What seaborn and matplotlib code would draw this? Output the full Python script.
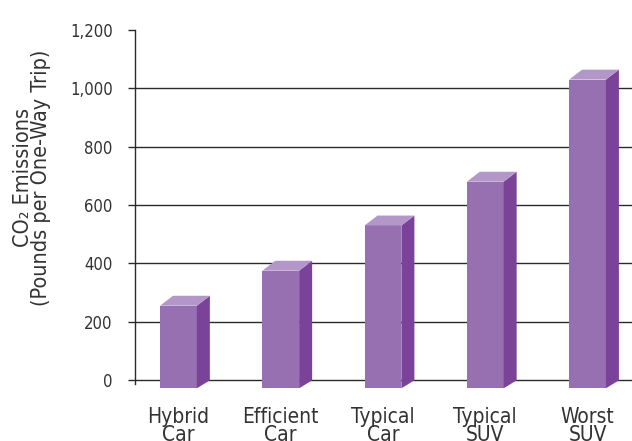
import matplotlib
matplotlib.use('Agg')
import matplotlib.pyplot as plt
from matplotlib.patches import Polygon
import pandas as pd
import seaborn as sns

categories = ['Hybrid\nCar', 'Efficient\nCar', 'Typical\nCar', 'Typical\nSUV', 'Worst\nSUV']
emissions = [255, 375, 530, 680, 1030]
yticks = [0, 200, 400, 600, 800, 1000, 1200]

front = '#9670B0'
side = '#7A4399'
top = '#B397C9'
txt = '#333333'

sns.set_theme(style='white')
plt.rcParams['font.family'] = ['DejaVu Sans']
plt.rcParams['font.stretch'] = 'condensed'

df = pd.DataFrame({'vehicle': categories, 'co2': emissions})

fig = plt.figure(figsize=(6.32, 4.41), dpi=100)
ax = fig.add_axes([0.2136, 0.105, 0.7864, 0.827])

# gridlines, none at the top tick
for t in yticks[:-1]:
    ax.axhline(t, color='#2a2a2a', lw=1.0, zorder=0)

sns.barplot(data=df, x='vehicle', y='co2', color=front, saturation=1,
            width=0.36, ax=ax, zorder=2)

# fake 3D look: bars sink a bit under the floor, plus side and top faces
floor = -28
dx, dy = 0.127, 34
for p in ax.patches:
    h = p.get_height()
    p.set_y(floor)
    p.set_height(h - floor)
    p.set_linewidth(0)
    x0 = p.get_x()
    x1 = x0 + p.get_width()
    ax.add_patch(Polygon([(x1, floor), (x1 + dx, floor + dy * 0.8), (x1 + dx, h + dy), (x1, h)],
                         closed=True, facecolor=side, edgecolor='none', zorder=2))
    ax.add_patch(Polygon([(x0, h), (x0 + dx, h + dy), (x1 + dx, h + dy), (x1, h)],
                         closed=True, facecolor=top, edgecolor='none', zorder=2))

ax.set_xlim(-0.425, 4.435)
ax.set_ylim(-50, 1200)
ax.set_yticks(yticks)
ax.set_yticklabels([f'{t:,}' for t in yticks])
ax.set_xlabel('')
ax.set_ylabel('CO\u2082 Emissions\n(Pounds per One-Way Trip)', fontsize=15.5, color=txt,
              linespacing=0.92)
ax.yaxis.set_label_coords(-0.168, 0.595)

for s in ['top', 'right', 'bottom']:
    ax.spines[s].set_visible(False)
ax.spines['left'].set_color('#2a2a2a')
ax.spines['left'].set_linewidth(1.0)
ax.spines['left'].set_bounds(-12, 1200)

ax.tick_params(axis='y', left=True, length=5, width=1, color='#2a2a2a',
               labelsize=12, labelcolor=txt, pad=11)
ax.tick_params(axis='x', bottom=False, labelsize=15, labelcolor=txt, pad=3)
for lab in ax.get_xticklabels():
    lab.set_linespacing(0.88)

fig.savefig('out.png', dpi=100)
